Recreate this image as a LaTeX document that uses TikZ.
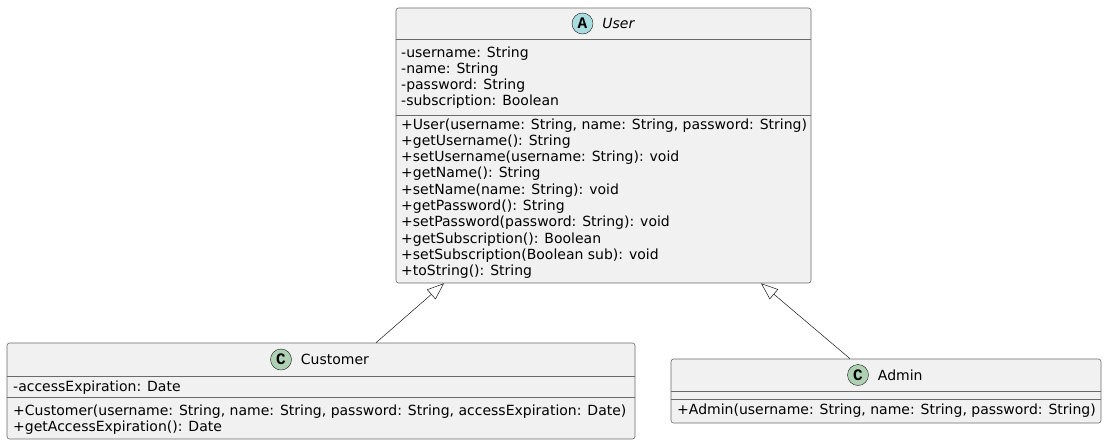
\documentclass[tikz,border=0pt]{standalone}
\usepackage{fontspec}
\setmainfont{DejaVu Sans}
\newfontfamily\markfont{Liberation Mono}
\usetikzlibrary{positioning,arrows.meta}
\definecolor{boxfill}{HTML}{F1F1F1}
\definecolor{boxline}{HTML}{181818}
\definecolor{boxedge}{HTML}{6A6A6A}
\definecolor{markcyan}{HTML}{A9DCDF}
\definecolor{markgreen}{HTML}{ADD1B2}

\begin{document}
\begin{tikzpicture}[
        x=1pt, y=-1pt,
        classbox/.style={draw=boxedge, fill=boxfill, line width=0.6pt, rounded corners=2.5pt, inner sep=0pt},
        sepline/.style={draw=boxedge, line width=0.6pt},
        abstractmark/.style={circle, draw=boxline, fill=markcyan, minimum size=21pt, inner sep=0pt, font=\markfont\bfseries\fontsize{16}{16}\selectfont},
        classmark/.style={circle, draw=boxline, fill=markgreen, minimum size=21pt, inner sep=0pt, font=\markfont\bfseries\fontsize{16}{16}\selectfont},
        title/.style={inner sep=0pt, font=\fontsize{14}{16.3}\selectfont},
        members/.style={inner sep=0pt, anchor=base west, align=left, font=\fontsize{14}{16.3}\selectfont},
        extends/.style={draw=boxline, line width=0.5pt, -{Triangle[open, length=17pt, width=13pt]}}
    ]
    \useasboundingbox (0,0) rectangle (1107,445);

    % User (abstract); member nodes sit on the baseline of their last line
    \node[classbox, minimum width=415pt, minimum height=275pt] (user) at (603.5,145.5) {};
    \draw[sepline] (user.west |- 0,39) -- (user.east |- 0,39);
    \draw[sepline] (user.west |- 0,115) -- (user.east |- 0,115);
    \node[abstractmark] (ucirc) at (582.5,23.5) {A};
    \node[title, right=9pt of ucirc] (utitle) {\itshape User};
    \node[members] (uattr) at (401,105.9) {-username: String\\-name: String\\-password: String\\-subscription: Boolean};
    \node[members] (uops) at (401,275.7) {+User(username: String, name: String, password: String)\\+getUsername(): String\\+setUsername(username: String): void\\+getName(): String\\+setName(name: String): void\\+getPassword(): String\\+setPassword(password: String): void\\+getSubscription(): Boolean\\+setSubscription(Boolean sub): void\\+toString(): String};

    % Customer
    \node[classbox, minimum width=628pt, minimum height=96pt] (customer) at (321,391) {};
    \draw[sepline] (customer.west |- 0,376) -- (customer.east |- 0,376);
    \draw[sepline] (customer.west |- 0,397) -- (customer.east |- 0,397);
    \node[classmark] (ccirc) at (281,359.5) {C};
    \node[title, right=9pt of ccirc] (ctitle) {Customer};
    \node[members] (cattr) at (13,391) {-accessExpiration: Date};
    \node[members] (cops) at (13,431.8) {+Customer(username: String, name: String, password: String, accessExpiration: Date)\\+getAccessExpiration(): Date};

    % Admin
    \node[classbox, minimum width=430pt, minimum height=64pt] (admin) at (886,391) {};
    \draw[sepline] (admin.west |- 0,391) -- (admin.east |- 0,391);
    \draw[sepline] (admin.west |- 0,399) -- (admin.east |- 0,399);
    \node[classmark] (acirc) at (858,375) {C};
    \node[title, right=9pt of acirc] (atitle) {Admin};
    \node[members] (aops) at (677,414) {+Admin(username: String, name: String, password: String)};

    % inheritance
    \draw[extends] ([xshift=55pt]customer.north) -- ([xshift=-159.5pt]user.south);
    \draw[extends] ([xshift=-36pt]admin.north) -- ([xshift=157.5pt]user.south);

\end{tikzpicture}
\end{document}
